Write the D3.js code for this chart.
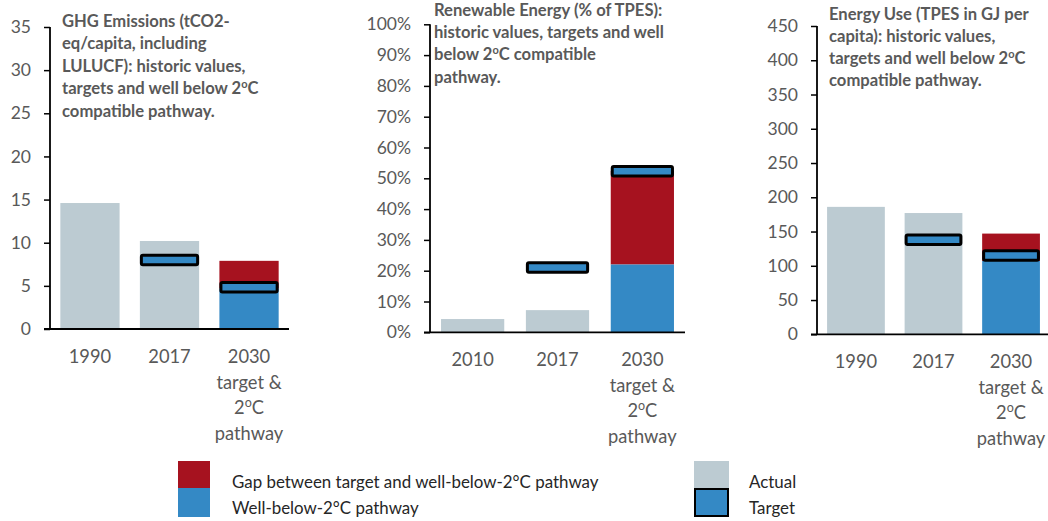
<!DOCTYPE html>
<html>
<head>
<meta charset="utf-8">
<script src="https://cdn.jsdelivr.net/npm/d3@7"></script>
<style>
  html, body { margin: 0; padding: 0; background: #fff; }
  svg { display: block; }
  text { font-family: Lato, "Open Sans", sans-serif; }
</style>
</head>
<body>
<svg id="chart" width="1048" height="521"></svg>
<script>
// ---------------- DATA ----------------
const categoriesGhg = ["1990", "2017", "2030|target &|2ºC|pathway"];
const ghgActual  = [14.6, 10.2, null];
const ghgPathway = [null, null, 4.7];
const ghgGapTop  = [null, null, 7.9];
const ghgTarget  = [null, 8.0, 4.85];
const ghgTicks   = [0, 5, 10, 15, 20, 25, 30, 35];
const ghgTitle   = ["GHG Emissions (tCO2-", "eq/capita, including", "LULUCF): historic values,", "targets and well below 2ºC", "compatible pathway."];

const categoriesRen = ["2010", "2017", "2030|target &|2ºC|pathway"];
const renActual  = [0.043, 0.072, null];
const renPathway = [null, null, 0.22];
const renGapTop  = [null, null, 0.524];
const renTarget  = [null, 0.21, 0.523];
const renTicks   = [0, 0.1, 0.2, 0.3, 0.4, 0.5, 0.6, 0.7, 0.8, 0.9, 1.0];
const renTitle   = ["Renewable Energy (% of TPES):", "historic values, targets and well", "below 2ºC compatible", "pathway."];

const categoriesEne = ["1990", "2017", "2030|target &|2ºC|pathway"];
const eneActual  = [186, 177, null];
const enePathway = [null, null, 107];
const eneGapTop  = [null, null, 147];
const eneTarget  = [null, 138, 115];
const eneTicks   = [0, 50, 100, 150, 200, 250, 300, 350, 400, 450];
const eneTitle   = ["Energy Use (TPES in GJ per", "capita): historic values,", "targets and well below 2ºC", "compatible pathway."];

const legendLeft  = ["Gap between target and well-below-2°C pathway", "Well-below-2°C pathway"];
const legendRight = ["Actual", "Target"];

// ---------------- STYLE ----------------
const C_RED = "#A6121F", C_BLUE = "#3489C5", C_GREY = "#BCCBD2", C_TEXT = "#595959";

const svg = d3.select("#chart");

// write text with superscript "o" for "ºC"
function richText(sel, str, supSize, lift) {
  const parts = str.split("º");
  parts.forEach((p, i) => {
    if (i > 0) {
      sel.append("tspan").attr("font-size", supSize).attr("dy", -lift).text("o");
      sel.append("tspan").attr("dy", lift).text(p);
    } else {
      sel.append("tspan").text(p);
    }
  });
}

function panel(cfg) {
  const g = svg.append("g");
  const x = d3.scaleBand().domain(cfg.cats).range([cfg.x0, cfg.x1]).paddingInner(0.255).paddingOuter(0.13);
  const y = d3.scaleLinear().domain([0, cfg.max]).range([cfg.yb, cfg.yt]);
  const bw = x.bandwidth();

  // actual bars
  g.selectAll(".act").data(cfg.cats.map((c, i) => ({c, v: cfg.actual[i]})).filter(d => d.v != null))
    .join("rect").attr("x", d => x(d.c)).attr("width", bw)
    .attr("y", d => y(d.v)).attr("height", d => y(0) - y(d.v)).attr("fill", C_GREY);
  // gap bars (from pathway to gap top)
  g.selectAll(".gap").data(cfg.cats.map((c, i) => ({c, lo: cfg.pathway[i], hi: cfg.gapTop[i]})).filter(d => d.hi != null))
    .join("rect").attr("x", d => x(d.c)).attr("width", bw)
    .attr("y", d => y(d.hi)).attr("height", d => y(d.lo) - y(d.hi)).attr("fill", C_RED);
  // pathway bars
  g.selectAll(".path").data(cfg.cats.map((c, i) => ({c, v: cfg.pathway[i]})).filter(d => d.v != null))
    .join("rect").attr("x", d => x(d.c)).attr("width", bw)
    .attr("y", d => y(d.v)).attr("height", d => y(0) - y(d.v)).attr("fill", C_BLUE);
  // targets
  const th = 9.5;
  g.selectAll(".tgt").data(cfg.cats.map((c, i) => ({c, v: cfg.target[i]})).filter(d => d.v != null))
    .join("rect").attr("x", d => x(d.c) + 1.5).attr("width", bw - 3)
    .attr("y", d => y(d.v) - th / 2).attr("height", th).attr("rx", 1.5)
    .attr("fill", C_BLUE).attr("stroke", "#000").attr("stroke-width", 3);

  // y axis
  const ya = g.append("g").attr("transform", `translate(${cfg.x0},0)`)
    .call(d3.axisLeft(y).tickValues(cfg.ticks).tickSize(6).tickPadding(13).tickFormat(cfg.fmt));
  ya.select(".domain").attr("d", `M0,${cfg.yt}V${cfg.yb}`).attr("stroke", "#000").attr("stroke-width", 1.8);
  ya.selectAll(".tick line").attr("stroke", "#000").attr("stroke-width", 1.5);
  ya.selectAll(".tick text").attr("fill", C_TEXT).attr("font-size", 17.5).attr("font-family", "Lato");

  // x axis line
  g.append("line").attr("x1", cfg.x0 - 6).attr("x2", cfg.x1).attr("y1", y(0)).attr("y2", y(0))
    .attr("stroke", "#000").attr("stroke-width", 1.8);
  // x labels
  cfg.cats.forEach(c => {
    const lines = c.split("|");
    lines.forEach((ln, j) => {
      const t = g.append("text").attr("x", x(c) + bw / 2).attr("y", y(0) + 34 + j * 25.5)
        .attr("text-anchor", "middle").attr("fill", C_TEXT).attr("font-size", 18.3);
      richText(t, ln, 12.5, 7);
    });
  });

  // title
  cfg.title.forEach((ln, j) => {
    const t = g.append("text").attr("x", cfg.tx).attr("y", cfg.ty + j * cfg.tdy)
      .attr("fill", C_TEXT).attr("font-size", 16.6).attr("font-weight", "bold");
    richText(t, ln, 11, 6);
  });
}

panel({cats: categoriesGhg, actual: ghgActual, pathway: ghgPathway, gapTop: ghgGapTop, target: ghgTarget,
  ticks: ghgTicks, max: 35, fmt: d3.format("d"), x0: 50, x1: 289, yt: 27, yb: 329,
  title: ghgTitle, tx: 62, ty: 26.5, tdy: 22.6});
panel({cats: categoriesRen, actual: renActual, pathway: renPathway, gapTop: renGapTop, target: renTarget,
  ticks: renTicks, max: 1.0, fmt: d3.format(".0%"), x0: 430, x1: 685, yt: 24.3, yb: 332.3,
  title: renTitle, tx: 434, ty: 16, tdy: 22.2});
panel({cats: categoriesEne, actual: eneActual, pathway: enePathway, gapTop: eneGapTop, target: eneTarget,
  ticks: eneTicks, max: 450, fmt: d3.format("d"), x0: 817, x1: 1050, yt: 26, yb: 334.3,
  title: eneTitle, tx: 829, ty: 19.5, tdy: 22});

// ---------------- LEGEND ----------------
const lg = svg.append("g");
lg.append("rect").attr("x", 178).attr("y", 461).attr("width", 32).attr("height", 27).attr("fill", C_RED);
lg.append("rect").attr("x", 178).attr("y", 488).attr("width", 32).attr("height", 29).attr("fill", C_BLUE);
lg.append("rect").attr("x", 694).attr("y", 461).attr("width", 35).attr("height", 27).attr("fill", C_GREY);
lg.append("rect").attr("x", 695).attr("y", 489).attr("width", 33).attr("height", 27).attr("fill", C_BLUE)
  .attr("stroke", "#000").attr("stroke-width", 2);
legendLeft.forEach((s, i) => lg.append("text").attr("x", 232).attr("y", 488 + i * 26.3)
  .attr("fill", "#262626").attr("font-size", 16.9).text(s));
legendRight.forEach((s, i) => lg.append("text").attr("x", 749).attr("y", 488 + i * 26.3)
  .attr("fill", "#262626").attr("font-size", 16.9).text(s));
</script>
</body>
</html>
